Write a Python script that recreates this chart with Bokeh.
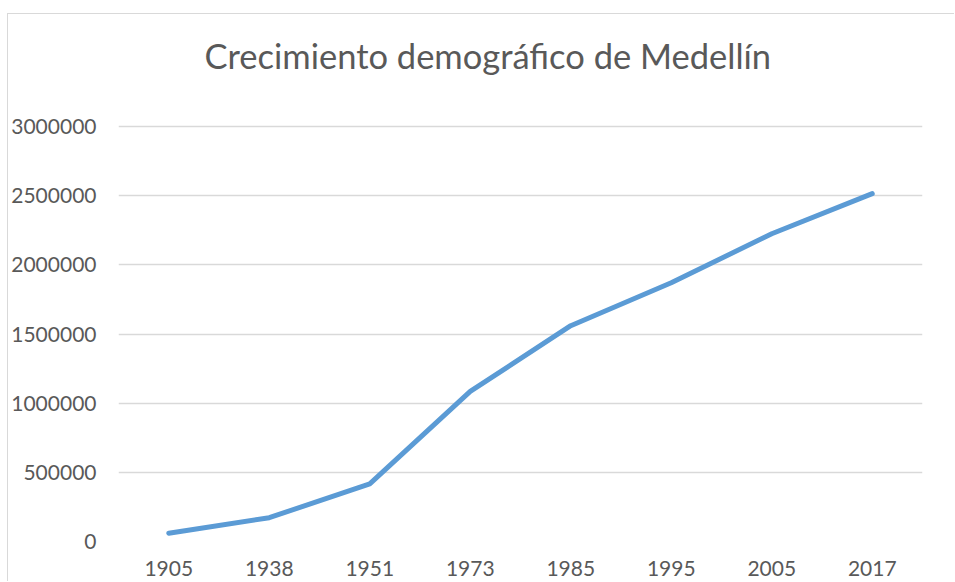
from bokeh.plotting import figure
from bokeh.models import Range1d, SingleIntervalTicker, NumeralTickFormatter, Title
from bokeh.embed import file_html
from bokeh.resources import INLINE

years = ["1905", "1938", "1951", "1973", "1985", "1995", "2005", "2017"]
population = [60000, 172000, 417000, 1085000, 1560000, 1870000, 2225000, 2515000]
title_text = "Crecimiento demográfico de Medellín"

FONT = "Lato"
GRAY = "#595959"

# 3,000,000 sits 2px below the frame top so its gridline is not clipped
y_top = 3000000 + 2 * 3000000 / 415

p = figure(width=947, height=568, x_range=years, y_range=Range1d(0, y_top),
           output_backend="svg", toolbar_location=None,
           min_border_left=110, min_border_right=33, min_border_top=110, min_border_bottom=41)
p.margin = (13, 0, 0, 7)
p.styles = {"border-top": "1px solid #d9d9d9", "border-left": "1px solid #d9d9d9"}

p.line(years, population, line_color="#5B9BD5", line_width=5,
       line_cap="round", line_join="round")

# empty spacer panel between the plot area and the title
spacer = Title(text=" ", text_font_size="10px", standoff=36, text_color="white")
p.add_layout(spacer, "above")
main_title = Title(text=title_text, text_font=FONT, text_font_size="34.5px",
                   text_font_style="normal", text_color=GRAY, align="left",
                   offset=86, standoff=0)
p.add_layout(main_title, "above")

p.outline_line_color = None
p.xgrid.grid_line_color = None
p.ygrid.grid_line_color = "#d9d9d9"
p.ygrid.grid_line_width = 1.3

p.yaxis.ticker = SingleIntervalTicker(interval=500000)
p.yaxis.formatter = NumeralTickFormatter(format="0")
p.yaxis.axis_line_color = None
p.yaxis.major_tick_line_color = None
p.yaxis.minor_tick_line_color = None
p.yaxis.major_tick_out = 0
p.yaxis.major_tick_in = 0
p.yaxis.major_label_standoff = 18

p.xaxis.axis_line_color = None
p.xaxis.major_tick_line_color = None
p.xaxis.major_tick_out = 0
p.xaxis.major_tick_in = 0
p.xaxis.major_label_standoff = 19

for ax in (p.xaxis, p.yaxis):
    ax.major_label_text_font = FONT
    ax.major_label_text_font_size = "21px"
    ax.major_label_text_color = GRAY

open("out.html", "w").write(file_html(p, INLINE))
